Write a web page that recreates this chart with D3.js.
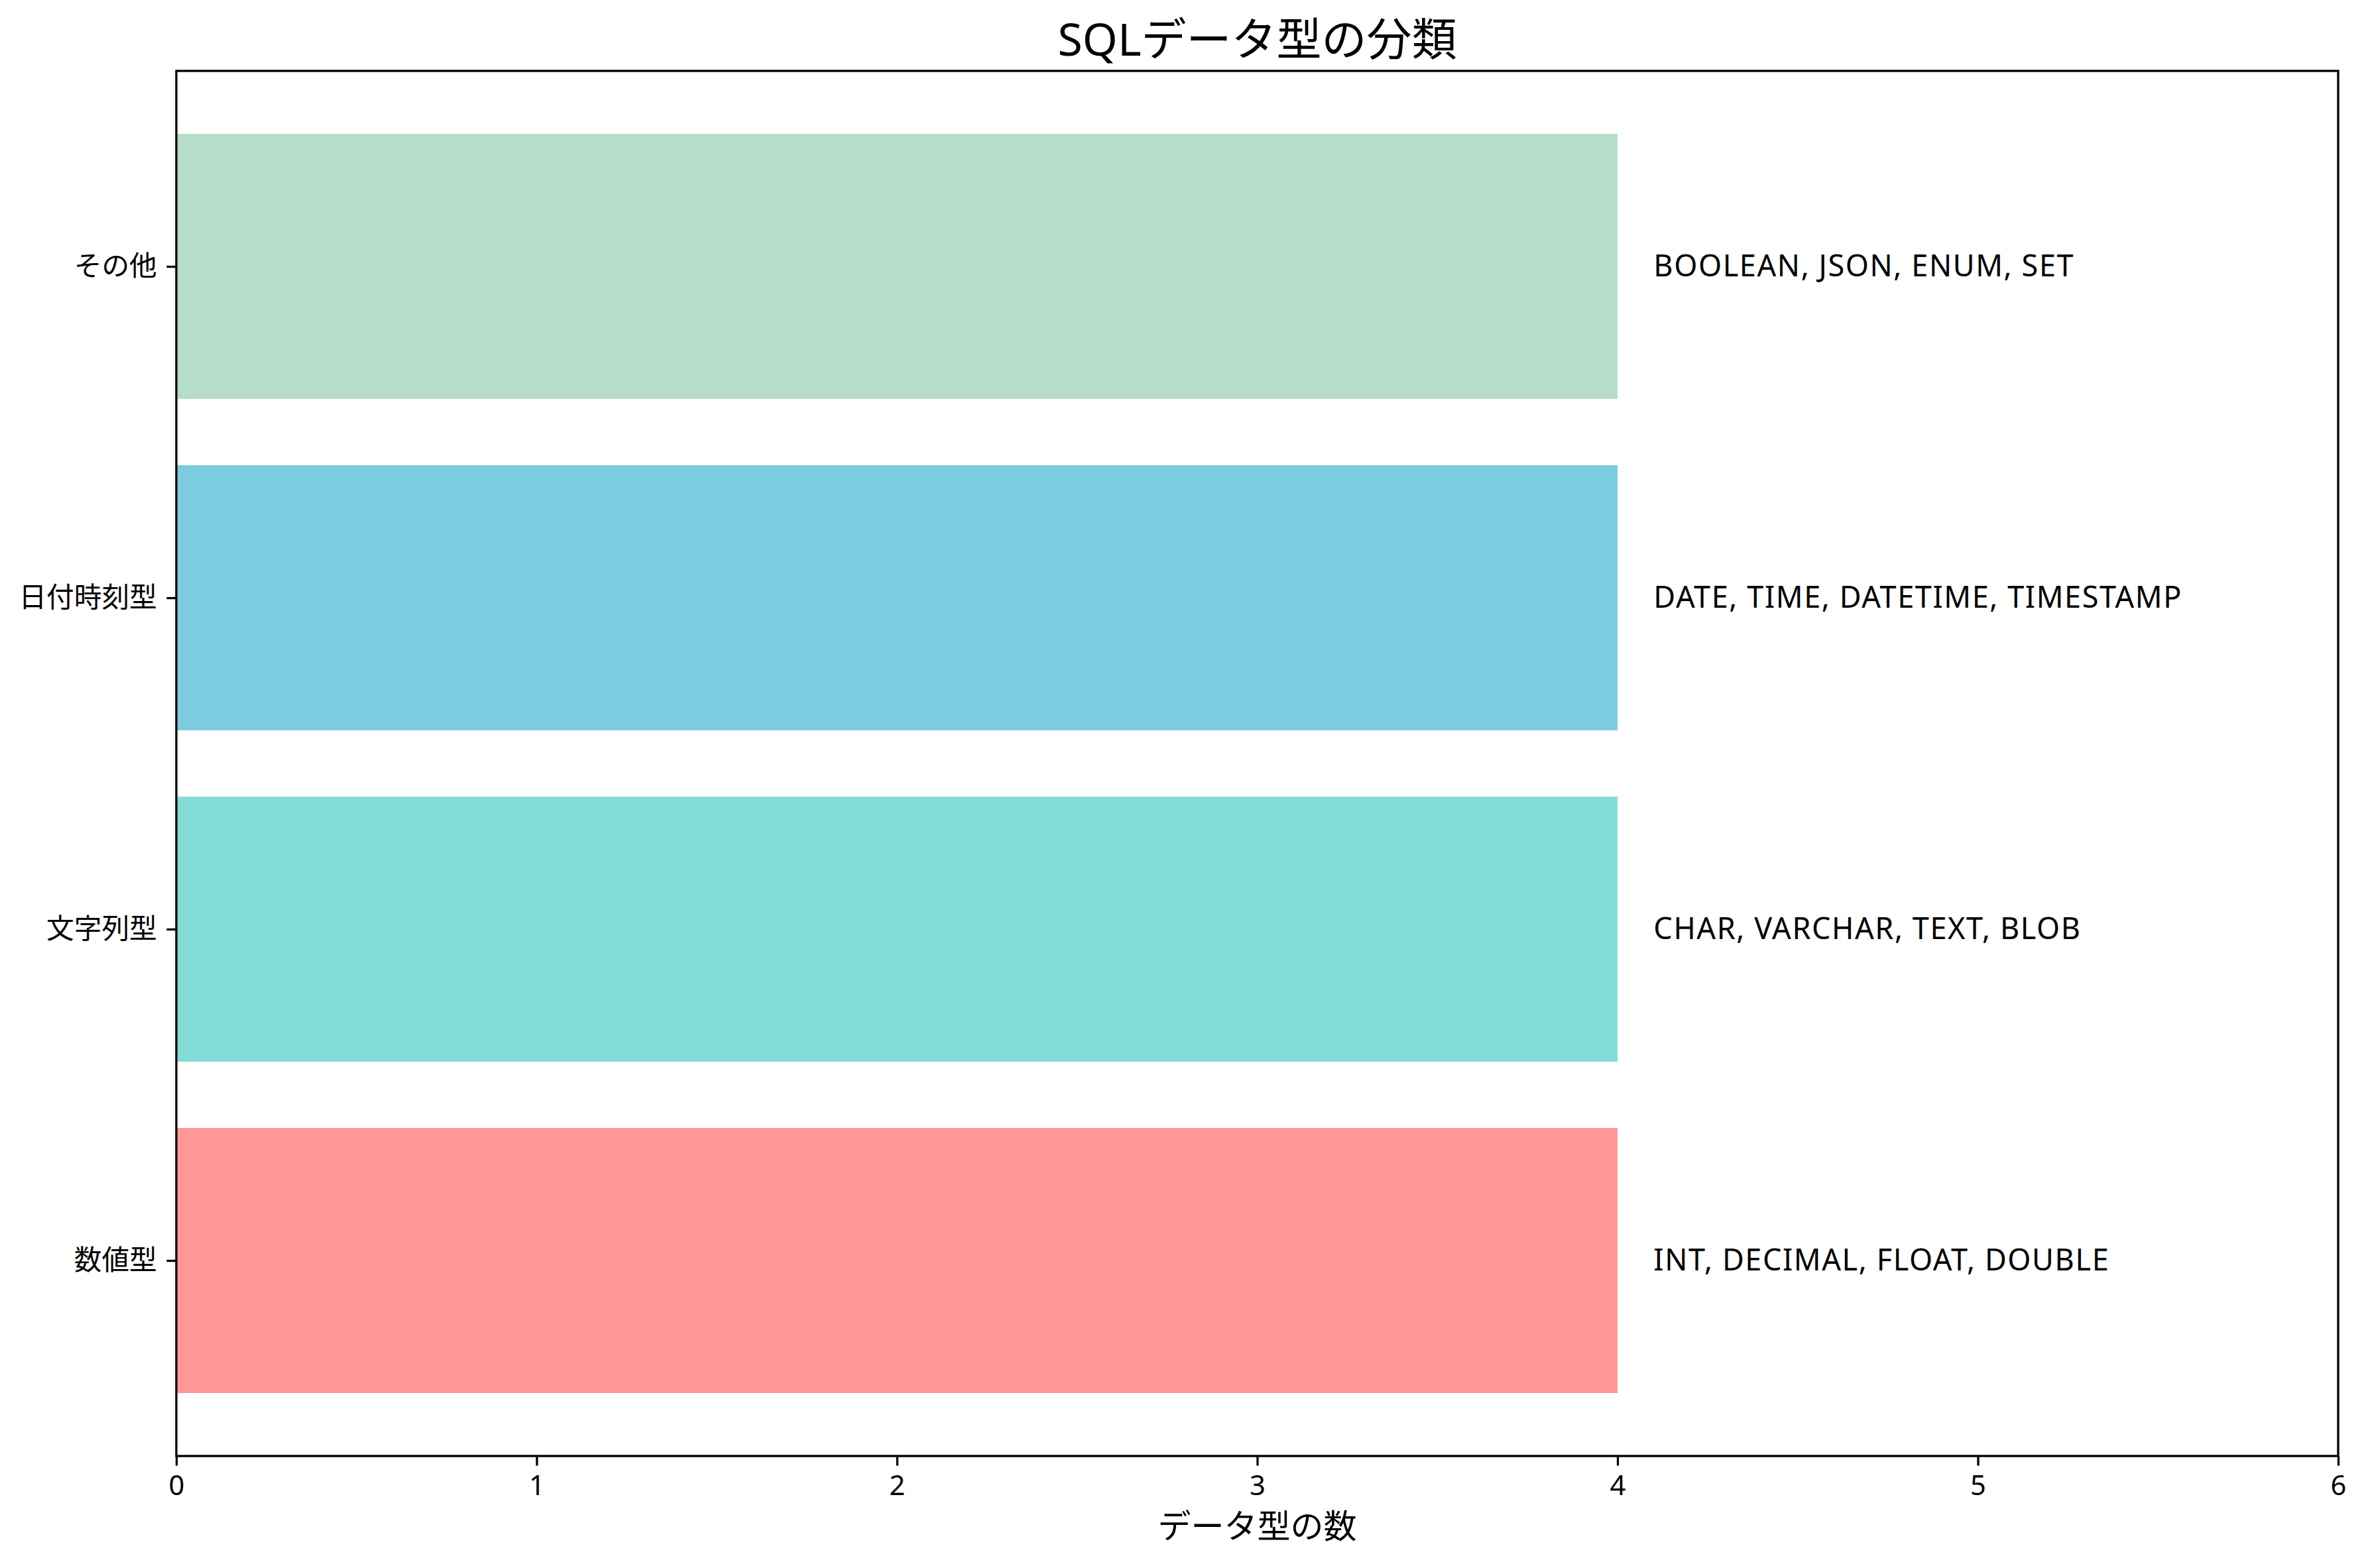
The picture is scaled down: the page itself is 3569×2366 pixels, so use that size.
<!DOCTYPE html>
<html>
<head>
<meta charset="utf-8">
<script src="https://cdn.jsdelivr.net/npm/d3@7"></script>
<style>
html,body{margin:0;padding:0;background:#fff;}
text{font-family:"Noto Sans","Noto Sans CJK JP",sans-serif;fill:#000;}
</style>
</head>
<body>
<svg id="chart" width="3569" height="2366"></svg>
<script>
const categories = ["数値型", "文字列型", "日付時刻型", "その他"];
const counts = [4, 4, 4, 4];
const typeLabels = [
  "INT, DECIMAL, FLOAT, DOUBLE",
  "CHAR, VARCHAR, TEXT, BLOB",
  "DATE, TIME, DATETIME, TIMESTAMP",
  "BOOLEAN, JSON, ENUM, SET"
];
const colors = ["#FF6B6B", "#4ECDC4", "#45B7D1", "#96CEB4"];
const xTicks = [0, 1, 2, 3, 4, 5, 6];
const titleText = "SQLデータ型の分類";
const xLabelText = "データ型の数";

const W = 3569, H = 2366;
const m = {left: 266, right: 3527, top: 107, bottom: 2197};
const FONT = '"Noto Sans", "Noto Sans CJK JP", sans-serif';
const svg = d3.select("#chart");
svg.append("rect").attr("width", W).attr("height", H).attr("fill", "#fff");

const x = d3.scaleLinear().domain([0, 6]).range([m.left, m.right]);
const y = d3.scaleLinear().domain([-0.59, 3.59]).range([m.bottom, m.top]);
const barH = 0.8;

const g = svg.append("g");
g.selectAll("rect.bar").data(categories).enter().append("rect")
  .attr("class", "bar")
  .attr("x", x(0))
  .attr("y", (d, i) => y(i + barH / 2))
  .attr("width", (d, i) => x(counts[i]) - x(0))
  .attr("height", (d, i) => y(i - barH / 2) - y(i + barH / 2))
  .attr("fill", (d, i) => colors[i])
  .attr("fill-opacity", 0.7);

g.selectAll("text.lbl").data(typeLabels).enter().append("text")
  .attr("class", "lbl")
  .attr("x", (d, i) => x(counts[i] + 0.1))
  .attr("y", (d, i) => y(i))
  .attr("dy", "0.33em")
  .attr("font-size", 45)
  .attr("letter-spacing", 1.6)
  .text(d => d);

// frame
svg.append("rect")
  .attr("x", m.left).attr("y", m.top)
  .attr("width", m.right - m.left).attr("height", m.bottom - m.top)
  .attr("fill", "none").attr("stroke", "#000").attr("stroke-width", 3.3);

// x axis
const xAxis = d3.axisBottom(x).tickValues(xTicks).tickFormat(d3.format("d"))
  .tickSize(14.6).tickPadding(14.6);
const xg = svg.append("g").attr("transform", `translate(0,${m.bottom})`).call(xAxis);
xg.select(".domain").remove();
xg.selectAll(".tick line").attr("stroke", "#000").attr("stroke-width", 3.3);
xg.selectAll(".tick text").attr("font-size", 41.7).attr("fill", "#000")
  .style("font-family", FONT);

// y axis
const yAxis = d3.axisLeft(y).tickValues(d3.range(categories.length))
  .tickFormat(i => categories[i]).tickSize(14.6).tickPadding(14.6);
const yg = svg.append("g").attr("transform", `translate(${m.left},0)`).call(yAxis);
yg.select(".domain").remove();
yg.selectAll(".tick line").attr("stroke", "#000").attr("stroke-width", 3.3);
yg.selectAll(".tick text").attr("font-size", 41.7).attr("fill", "#000")
  .style("font-family", FONT);

// title
svg.append("text")
  .attr("x", (m.left + m.right) / 2).attr("y", 84)
  .attr("text-anchor", "middle").attr("font-size", 68)
  .text(titleText);

// x label
svg.append("text")
  .attr("x", (m.left + m.right) / 2).attr("y", 2321)
  .attr("text-anchor", "middle").attr("font-size", 50)
  .text(xLabelText);
</script>
</body>
</html>
